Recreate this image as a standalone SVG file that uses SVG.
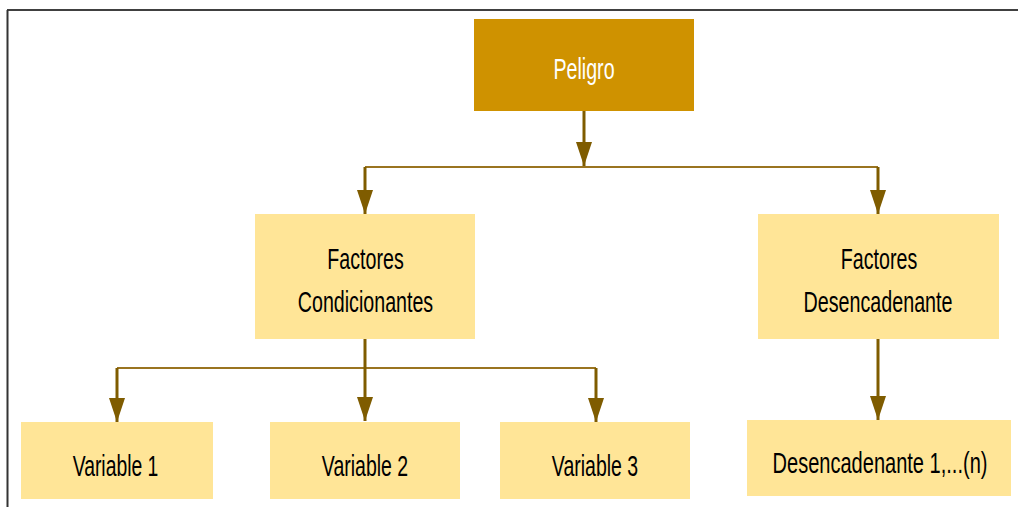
<svg xmlns="http://www.w3.org/2000/svg" width="1018" height="507" viewBox="0 0 1018 507">
  <style>
    .box { fill: #FFE597; }
    .top { fill: #CF9200; }
    .t { font-family: "Liberation Sans", Arial, sans-serif; font-size: 30px; fill: #000; text-anchor: middle; }
    .tw { fill: #FFFFFF; }
    .v { stroke: #7F5C00; stroke-width: 3; fill: none; }
    .h { stroke: #9A7420; stroke-width: 2; fill: none; }
  </style>
  <defs>
    <marker id="arr" viewBox="0 0 24 16" refX="24" refY="8" markerWidth="24" markerHeight="16" markerUnits="userSpaceOnUse" orient="auto">
      <path d="M0,0 L24,8 L0,16 Z" fill="#7F5C00"/>
    </marker>
  </defs>
  <rect width="1018" height="507" fill="#FFFFFF"/>
  <g id="frame">
    <line x1="7" y1="10" x2="1018" y2="10" stroke="#000" stroke-width="1.5"/>
    <line x1="7.5" y1="10" x2="7.5" y2="507" stroke="#333" stroke-width="2"/>
  </g>
  <g id="connectors">
    <line class="v" x1="584" y1="111" x2="584" y2="166" marker-end="url(#arr)"/>
    <line class="h" x1="365" y1="167" x2="878" y2="167"/>
    <line class="v" x1="365" y1="167" x2="365" y2="214" marker-end="url(#arr)"/>
    <line class="v" x1="878" y1="167" x2="878" y2="214" marker-end="url(#arr)"/>
    <line class="h" x1="117" y1="368" x2="596" y2="368"/>
    <line class="v" x1="365" y1="339" x2="365" y2="421" marker-end="url(#arr)"/>
    <line class="v" x1="117" y1="368" x2="117" y2="422" marker-end="url(#arr)"/>
    <line class="v" x1="596" y1="368" x2="596" y2="422" marker-end="url(#arr)"/>
    <line class="v" x1="878" y1="339" x2="878" y2="420" marker-end="url(#arr)"/>
  </g>
  <g id="peligro">
    <rect class="top" x="474" y="19" width="220" height="92"/>
    <text class="t tw" transform="translate(584,79) scale(0.655,1)">Peligro</text>
  </g>
  <g id="factores-condicionantes">
    <rect class="box" x="255" y="214" width="220" height="125"/>
    <text class="t" transform="translate(365.5,269) scale(0.655,1)">Factores</text>
    <text class="t" transform="translate(365.5,312) scale(0.655,1)">Condicionantes</text>
  </g>
  <g id="factores-desencadenante">
    <rect class="box" x="758" y="214" width="241" height="125"/>
    <text class="t" transform="translate(879,269) scale(0.655,1)">Factores</text>
    <text class="t" transform="translate(878,312) scale(0.657,1)">Desencadenante</text>
  </g>
  <g id="variable-1">
    <rect class="box" x="21" y="422" width="192" height="77"/>
    <text class="t" transform="translate(115.5,476) scale(0.645,1)">Variable 1</text>
  </g>
  <g id="variable-2">
    <rect class="box" x="270" y="422" width="190" height="77"/>
    <text class="t" transform="translate(365,476) scale(0.65,1)">Variable 2</text>
  </g>
  <g id="variable-3">
    <rect class="box" x="500" y="422" width="190" height="77"/>
    <text class="t" transform="translate(595,476) scale(0.65,1)">Variable 3</text>
  </g>
  <g id="desencadenante-n">
    <rect class="box" x="747" y="420" width="264" height="76"/>
    <text class="t" transform="translate(880,473) scale(0.668,1)">Desencadenante 1,...(n)</text>
  </g>
</svg>
